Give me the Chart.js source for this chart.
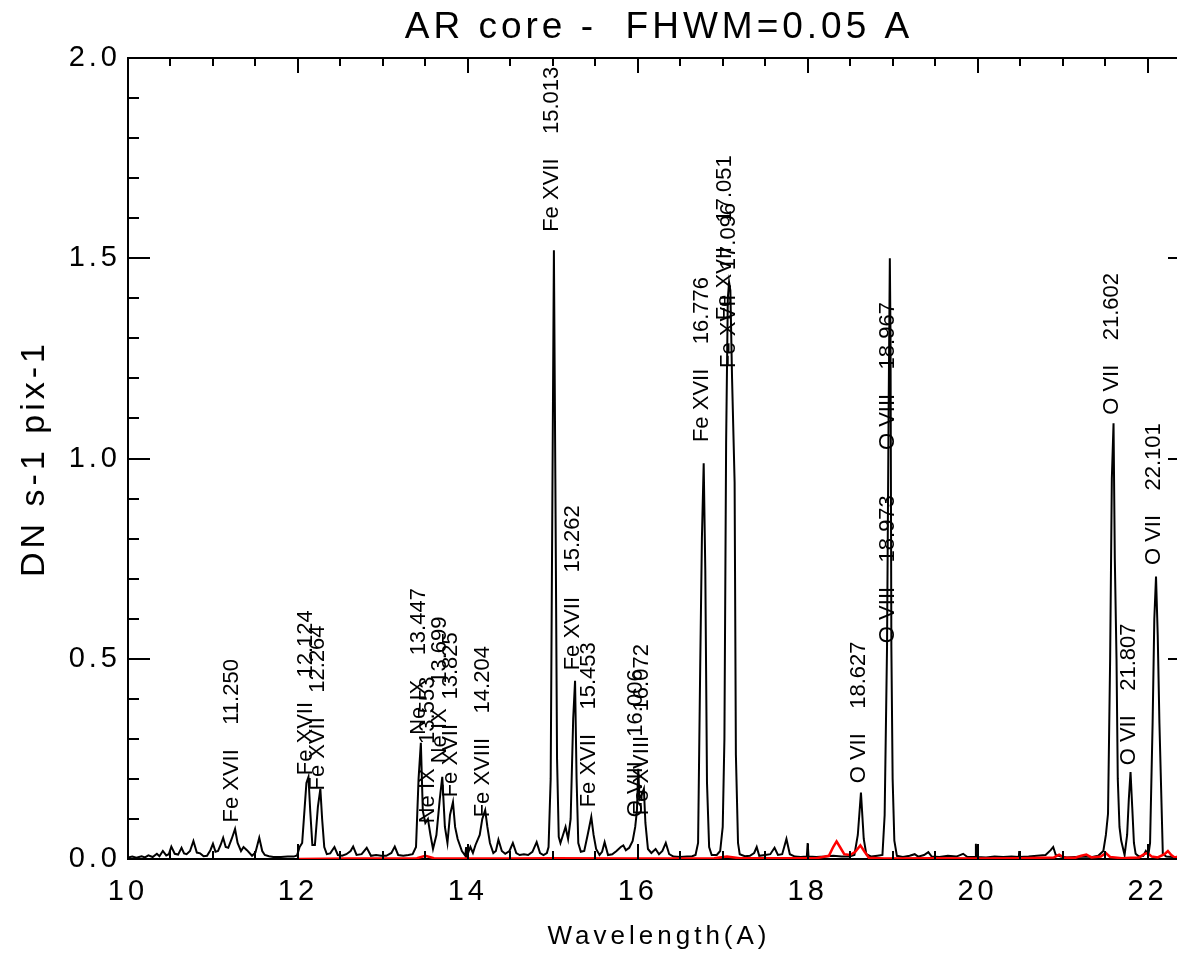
<!DOCTYPE html>
<html lang="en">
<head>
  <meta charset="UTF-8">
  <meta name="viewport" content="width=device-width, initial-scale=1.0">
  <title>AR core - FHWM=0.05 A</title>
  <style>
    html, body { margin: 0; padding: 0; background: #fff; overflow: hidden; }
    #wrap { width: 1200px; height: 956px; }
  </style>
</head>
<body>
  <div id="wrap"><canvas id="myChart" width="1200" height="956"></canvas></div>
  <script src="https://cdn.jsdelivr.net/npm/chart.js"></script>
  <script>
    // AR core spectrum (black) [wavelength, DN s-1 pix-1]
    const coreSpectrum = [
      [10.00,0.004],[10.05,0.006],[10.10,0.003],[10.16,0.007],[10.20,0.004],[10.24,0.009],[10.29,0.005],[10.34,0.013],
      [10.37,0.007],[10.41,0.020],[10.45,0.009],[10.48,0.012],[10.51,0.031],[10.55,0.013],[10.59,0.011],[10.63,0.028],
      [10.66,0.014],[10.69,0.012],[10.73,0.020],[10.77,0.045],[10.81,0.016],[10.85,0.014],[10.89,0.007],[10.93,0.008],
      [10.97,0.022],[11.00,0.038],[11.03,0.018],[11.06,0.020],[11.09,0.035],[11.12,0.053],[11.15,0.030],[11.18,0.028],
      [11.22,0.050],[11.26,0.075],[11.29,0.040],[11.33,0.020],[11.36,0.030],[11.40,0.022],[11.46,0.008],[11.50,0.016],
      [11.545,0.053],[11.58,0.020],[11.61,0.010],[11.66,0.007],[11.71,0.005],[11.80,0.005],[11.88,0.006],[11.95,0.006],
      [11.99,0.009],[12.02,0.030],[12.05,0.040],[12.08,0.130],[12.10,0.190],[12.124,0.205],[12.145,0.120],[12.17,0.035],
      [12.20,0.035],[12.235,0.130],[12.264,0.175],[12.285,0.100],[12.31,0.030],[12.34,0.012],[12.38,0.014],[12.43,0.030],
      [12.47,0.010],[12.52,0.008],[12.57,0.012],[12.62,0.020],[12.65,0.031],[12.69,0.010],[12.75,0.012],[12.81,0.028],
      [12.86,0.008],[12.92,0.010],[12.98,0.008],[13.04,0.008],[13.10,0.015],[13.14,0.031],[13.18,0.010],[13.24,0.008],
      [13.30,0.010],[13.35,0.012],[13.39,0.030],[13.42,0.200],[13.447,0.290],[13.47,0.120],[13.50,0.090],[13.53,0.100],
      [13.56,0.060],[13.59,0.025],[13.63,0.060],[13.67,0.150],[13.699,0.205],[13.73,0.080],[13.76,0.040],[13.79,0.110],
      [13.825,0.142],[13.85,0.080],[13.88,0.050],[13.93,0.020],[13.97,0.008],[13.98,0.030],[13.99,0.008],[14.03,0.030],
      [14.06,0.015],[14.09,0.035],[14.14,0.060],[14.17,0.100],[14.204,0.122],[14.23,0.080],[14.26,0.040],[14.30,0.015],
      [14.33,0.020],[14.36,0.048],[14.40,0.020],[14.44,0.013],[14.49,0.020],[14.53,0.040],[14.57,0.015],[14.61,0.010],
      [14.66,0.012],[14.71,0.010],[14.76,0.018],[14.81,0.042],[14.85,0.015],[14.89,0.010],[14.93,0.015],[14.95,0.030],
      [14.975,0.200],[14.995,0.900],[15.013,1.520],[15.03,0.950],[15.05,0.250],[15.07,0.055],[15.09,0.040],[15.12,0.060],
      [15.15,0.080],[15.18,0.050],[15.21,0.100],[15.24,0.350],[15.262,0.445],[15.28,0.200],[15.30,0.040],[15.33,0.018],
      [15.37,0.020],[15.41,0.060],[15.453,0.105],[15.48,0.060],[15.51,0.025],[15.55,0.010],[15.58,0.018],[15.61,0.042],
      [15.65,0.010],[15.70,0.012],[15.75,0.020],[15.80,0.030],[15.83,0.034],[15.86,0.022],[15.90,0.028],[15.94,0.045],
      [15.97,0.080],[15.99,0.120],[16.006,0.225],[16.02,0.150],[16.045,0.160],[16.072,0.175],[16.09,0.090],[16.12,0.025],
      [16.16,0.015],[16.21,0.025],[16.25,0.012],[16.29,0.020],[16.33,0.040],[16.37,0.012],[16.42,0.006],[16.50,0.005],
      [16.58,0.006],[16.64,0.007],[16.68,0.010],[16.71,0.040],[16.735,0.480],[16.755,0.800],[16.776,0.988],[16.795,0.720],
      [16.815,0.190],[16.84,0.030],[16.87,0.010],[16.93,0.010],[16.97,0.020],[17.00,0.080],[17.02,0.300],[17.04,1.040],
      [17.06,1.400],[17.075,1.440],[17.09,1.420],[17.11,1.200],[17.14,0.940],[17.155,0.260],[17.18,0.040],[17.20,0.012],
      [17.26,0.007],[17.32,0.008],[17.37,0.015],[17.40,0.030],[17.43,0.008],[17.50,0.010],[17.56,0.012],[17.61,0.028],
      [17.65,0.010],[17.70,0.012],[17.75,0.050],[17.79,0.012],[17.85,0.006],[17.92,0.005],[17.99,0.006],[18.00,0.040],
      [18.01,0.006],[18.10,0.005],[18.20,0.006],[18.30,0.008],[18.40,0.006],[18.49,0.006],[18.55,0.010],[18.59,0.060],
      [18.627,0.166],[18.66,0.050],[18.69,0.012],[18.75,0.006],[18.82,0.008],[18.88,0.010],[18.906,0.110],[18.934,0.530],
      [18.952,1.100],[18.967,1.500],[18.975,1.300],[18.985,0.530],[19.00,0.200],[19.02,0.046],[19.05,0.008],[19.12,0.005],
      [19.20,0.008],[19.26,0.012],[19.30,0.006],[19.37,0.010],[19.42,0.017],[19.46,0.006],[19.55,0.005],[19.65,0.008],
      [19.75,0.006],[19.83,0.013],[19.88,0.005],[19.975,0.005],[19.98,0.038],[19.985,0.005],[20.10,0.004],[20.20,0.006],
      [20.30,0.005],[20.40,0.006],[20.485,0.005],[20.49,0.020],[20.495,0.005],[20.60,0.006],[20.70,0.008],[20.80,0.010],
      [20.86,0.022],[20.89,0.030],[20.92,0.010],[20.98,0.006],[21.05,0.004],[21.15,0.005],[21.25,0.006],[21.35,0.005],
      [21.42,0.008],[21.48,0.020],[21.51,0.060],[21.535,0.113],[21.56,0.500],[21.58,0.950],[21.60,1.088],[21.615,0.750],
      [21.635,0.500],[21.65,0.200],[21.67,0.080],[21.69,0.046],[21.73,0.010],[21.76,0.060],[21.78,0.150],[21.80,0.217],
      [21.82,0.130],[21.84,0.040],[21.86,0.013],[21.90,0.006],[21.95,0.008],[21.98,0.020],[22.01,0.010],[22.03,0.040],
      [22.06,0.340],[22.08,0.600],[22.10,0.705],[22.12,0.560],[22.14,0.340],[22.18,0.013],[22.22,0.006],[22.30,0.005],
      [22.40,0.005],[22.50,0.005]
    ];

    // second spectrum (red)
    const redSpectrum = [
      [12.00,0.000],[12.60,0.001],[13.00,0.001],[13.40,0.002],[13.50,0.008],[13.60,0.002],[14.50,0.001],[15.00,0.002],
      [16.00,0.001],[16.90,0.002],[17.05,0.006],[17.20,0.002],[18.10,0.002],[18.25,0.008],[18.30,0.030],[18.34,0.044],
      [18.38,0.030],[18.43,0.012],[18.50,0.010],[18.56,0.018],[18.62,0.034],[18.67,0.018],[18.72,0.003],[18.90,0.001],
      [19.50,0.002],[20.00,0.001],[20.50,0.002],[20.90,0.004],[20.96,0.011],[21.02,0.003],[21.15,0.003],[21.22,0.008],
      [21.28,0.011],[21.34,0.004],[21.45,0.006],[21.51,0.015],[21.56,0.005],[21.70,0.002],[21.80,0.003],[21.90,0.004],
      [21.96,0.012],[22.00,0.015],[22.05,0.006],[22.12,0.004],[22.20,0.012],[22.24,0.020],[22.28,0.010],[22.32,0.004],
      [22.40,0.008],[22.50,0.004]
    ];

    // identified lines
    const lineIons = ['Fe XVII','Fe XVII','Fe XVII','Ne IX','Ne IX','Ne IX','Fe XVII','Fe XVIII','Fe XVII','Fe XVII','Fe XVII',
      'O VIII','Fe XVIII','Fe XVII','Fe XVII','Fe XVII','O VII','O VIII','O VIII','O VII','O VII','O VII'];
    const lineWaves = [11.250,12.124,12.264,13.447,13.553,13.699,13.825,14.204,15.013,15.262,15.453,
      16.006,16.072,16.776,17.051,17.096,18.627,18.967,18.973,21.602,21.807,22.101];
    const labelLevels = [0.091,0.209,0.171,0.310,0.089,0.239,0.154,0.104,1.566,0.471,0.129,
      0.104,0.109,1.041,1.345,1.226,0.189,1.021,0.539,1.109,0.234,0.734];

    const xTicks = [10, 12, 14, 16, 18, 20, 22];
    const yTicks = [0.0, 0.5, 1.0, 1.5, 2.0];
    const xMinor = 0.5;
    const yMinor = 0.1;

    const toPoints = arr => arr.map(([x, y]) => ({ x, y }));
    const FONT = '"Liberation Sans", Arial, Helvetica, sans-serif';

    // IDL style: ticks inside the box on all four sides, rotated line ids
    const boxTicks = {
      id: 'boxTicks',
      beforeDraw(chart) {
        chart.ctx.letterSpacing = '4px';
      },
      afterDatasetsDraw(chart) {
        const { ctx, scales: { x, y } } = chart;
        ctx.save();
        ctx.letterSpacing = '0px';
        ctx.font = '22px ' + FONT;
        ctx.fillStyle = '#000';
        ctx.textAlign = 'left';
        ctx.textBaseline = 'alphabetic';
        lineWaves.forEach((w, i) => {
          ctx.save();
          ctx.translate(x.getPixelForValue(w) + 4, y.getPixelForValue(labelLevels[i]));
          ctx.rotate(-Math.PI / 2);
          ctx.fillText(lineIons[i] + '    ' + w.toFixed(3), 0, 0);
          ctx.restore();
        });
        ctx.restore();
      },
      afterDraw(chart) {
        const { ctx, chartArea: a, scales: { x, y } } = chart;
        ctx.save();
        ctx.strokeStyle = '#000';
        ctx.lineWidth = 2;
        ctx.beginPath();
        for (let v = x.min; v <= x.max + 1e-9; v += xMinor) {
          const px = Math.round(x.getPixelForValue(v));
          const len = xTicks.some(t => Math.abs(t - v) < 1e-6) ? 15 : 8;
          ctx.moveTo(px, a.bottom); ctx.lineTo(px, a.bottom - len);
          ctx.moveTo(px, a.top); ctx.lineTo(px, a.top + len);
        }
        for (let v = y.min; v <= y.max + 1e-9; v += yMinor) {
          const py = Math.round(y.getPixelForValue(v));
          const len = yTicks.some(t => Math.abs(t - v) < 1e-6) ? 22 : 11;
          ctx.moveTo(a.left, py); ctx.lineTo(a.left + len, py);
          ctx.moveTo(a.right, py); ctx.lineTo(a.right - len, py);
        }
        ctx.stroke();
        ctx.restore();
      }
    };

    const border = { display: true, color: '#000', width: 2 };
    const noGrid = { display: false, drawTicks: false };

    new Chart(document.getElementById('myChart'), {
      type: 'line',
      data: {
        datasets: [
          { data: toPoints(redSpectrum), borderColor: '#ff0000', borderWidth: 2.5, pointRadius: 0, tension: 0 },
          { data: toPoints(coreSpectrum), borderColor: '#000', borderWidth: 2, pointRadius: 0, tension: 0 }
        ]
      },
      options: {
        responsive: false,
        devicePixelRatio: 1,
        animation: false,
        layout: { padding: { left: 0, right: 10, top: 0, bottom: 0 } },
        plugins: { legend: { display: false }, tooltip: { enabled: false } },
        scales: {
          x: {
            type: 'linear', position: 'bottom', min: 10, max: 22.5,
            afterBuildTicks: s => { s.ticks = xTicks.map(v => ({ value: v })); },
            afterFit: s => { s.height = 97; },
            grid: noGrid, border,
            ticks: { color: '#000', padding: 16, maxRotation: 0, autoSkip: false, font: { family: FONT, size: 29 } },
            title: { display: true, text: 'Wavelength(A)', color: '#000', padding: { top: 0, bottom: 4 }, font: { family: FONT, size: 26 } }
          },
          x2: {
            type: 'linear', position: 'top', min: 10, max: 22.5,
            afterFit: s => { s.height = 58; },
            grid: noGrid, border,
            ticks: { display: false },
            title: { display: true, text: 'AR core -  FHWM=0.05 A', color: '#000', padding: { top: 6, bottom: 0 }, font: { family: FONT, size: 37 } }
          },
          y: {
            type: 'linear', position: 'left', min: 0, max: 2,
            afterBuildTicks: s => { s.ticks = yTicks.map(v => ({ value: v })); },
            afterFit: s => { s.width = 128; },
            grid: noGrid, border,
            ticks: { color: '#000', padding: 7, font: { family: FONT, size: 29 }, callback: v => v.toFixed(1) },
            title: { display: true, text: 'DN s-1 pix-1', color: '#000', padding: { top: 14, bottom: 0 }, font: { family: FONT, size: 34 } }
          },
          y2: {
            type: 'linear', position: 'right', min: 0, max: 2,
            afterFit: s => { s.width = 0; },
            grid: noGrid, border,
            ticks: { display: false }
          }
        }
      },
      plugins: [boxTicks]
    });
  </script>
</body>
</html>
